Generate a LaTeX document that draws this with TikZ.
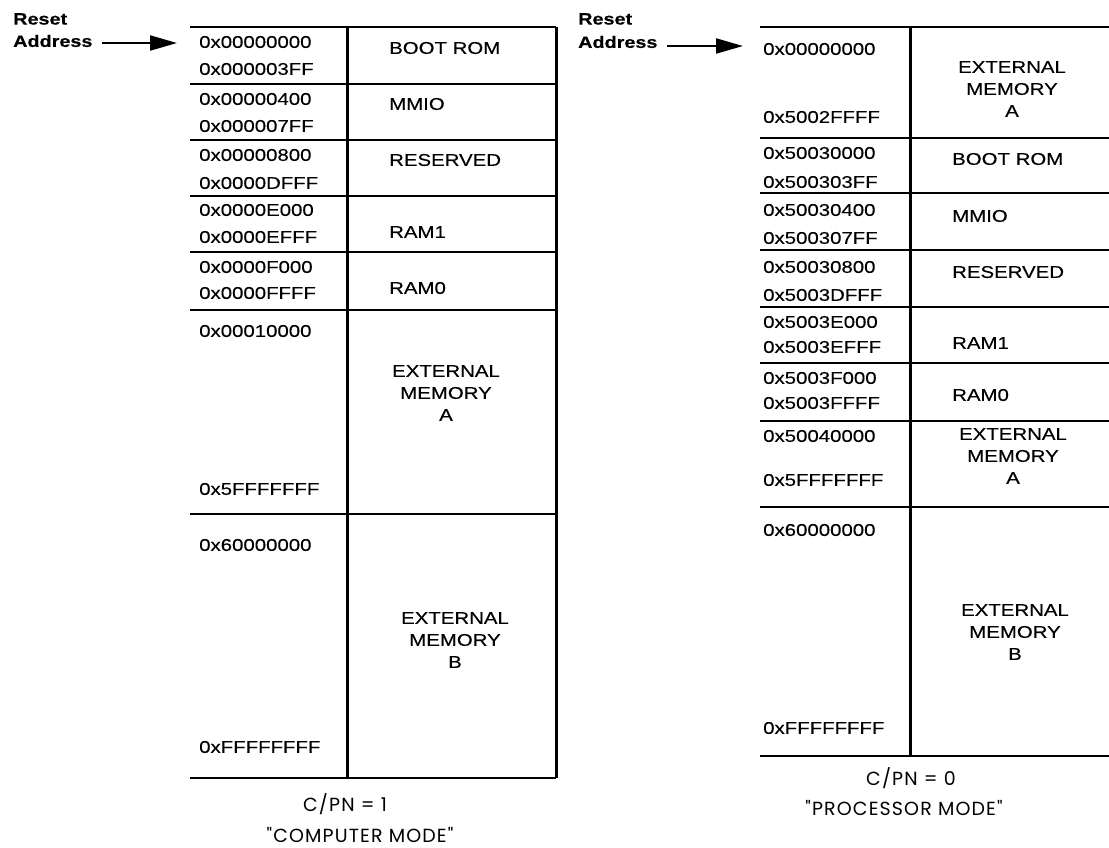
\documentclass[tikz,border=0pt]{standalone}
\usepackage{fontspec}
\setmainfont{Liberation Sans}[FakeStretch=1.2, FakeBold=0.3]
\newfontfamily\capfont{Poppins}[LetterSpace=6]
\usetikzlibrary{arrows.meta, positioning}

\begin{document}
\begin{tikzpicture}[
    x=1pt, y=-1pt,
    >={Triangle[length=27pt,width=15pt]},
    font=\fontsize{17}{19}\selectfont,
    addr/.style    = {anchor=west, inner sep=0pt},
    region/.style  = {anchor=west, inner sep=0pt},
    extmem/.style  = {align=center, inner sep=0pt,
                      font=\fontsize{17}{22}\selectfont},
    reset/.style   = {anchor=west, inner sep=0pt, font=\fontsize{16.5}{19}\selectfont\bfseries},
    rowline/.style = {line width=2.2pt},
    divline/.style = {line width=3pt},
    mode/.style    = {inner sep=0pt, font=\capfont\fontsize{19}{22}\selectfont},
]
\useasboundingbox (0,0) rectangle (1109,847);

% ---- computer mode map ----
\draw[rowline] (190,27) -- (556,27)  (190,84) -- (556,84)
               (190,140) -- (556,140) (190,196) -- (556,196)
               (190,252) -- (556,252) (190,310) -- (556,310)
               (190,514) -- (556,514) (190,778) -- (556,778);
\draw[divline] (347,27) -- (347,778);
\draw[divline] (556,27) -- (556,778);

\node[addr] (a0)  at (199,42)  {0x00000000};
\node[addr] (a1)  at (199,69)  {0x000003FF};
\node[addr] (a2)  at (199,99)  {0x00000400};
\node[addr] (a3)  at (199,126) {0x000007FF};
\node[addr] (a4)  at (199,155) {0x00000800};
\node[addr] (a5)  at (199,183) {0x0000DFFF};
\node[addr] (a6)  at (199,210) {0x0000E000};
\node[addr] (a7)  at (199,237) {0x0000EFFF};
\node[addr] (a8)  at (199,267) {0x0000F000};
\node[addr] (a9)  at (199,293) {0x0000FFFF};
\node[addr] (a10) at (199,331) {0x00010000};
\node[addr] (a11) at (199,489) {0x5FFFFFFF};
\node[addr] (a12) at (199,545) {0x60000000};
\node[addr] (a13) at (199,747) {0xFFFFFFFF};

\node[region] (bootL) at (389,48)  {BOOT ROM};
\node[region] (mmioL) at (389,104) {MMIO};
\node[region] (resvL) at (389,160) {RESERVED};
\node[region] (ram1L) at (389,232) {RAM1};
\node[region] (ram0L) at (389,288) {RAM0};
\node[extmem] (extAL) at (446,393) {EXTERNAL\\MEMORY\\A};
\node[extmem] (extBL) at (455,640) {EXTERNAL\\MEMORY\\B};

\node[mode] (cpnL)  at (345,804) {C/PN = 1};
\node[mode] (modeL) at (360,835) {"COMPUTER MODE"};

\node[reset] (rstL)  at (13,19) {Reset};
\node[reset] (addrL) at (13,41) {Address};
\coordinate (entryL) at (177,43);
\draw[->, line width=2.2pt] ([shift={(9,2)}]addrL.east) -- (entryL);

% ---- processor mode map ----
\draw[rowline] (760,27) -- (1109,27)  (760,138) -- (1109,138)
               (760,193) -- (1109,193) (760,250) -- (1109,250)
               (760,307) -- (1109,307) (760,363) -- (1109,363)
               (760,421) -- (1109,421) (760,507) -- (1109,507)
               (760,756) -- (1109,756);
\draw[divline] (910,27) -- (910,756);

\node[addr] (b0)  at (763,49)  {0x00000000};
\node[addr] (b1)  at (763,117) {0x5002FFFF};
\node[addr] (b2)  at (763,153) {0x50030000};
\node[addr] (b3)  at (763,182) {0x500303FF};
\node[addr] (b4)  at (763,210) {0x50030400};
\node[addr] (b5)  at (763,238) {0x500307FF};
\node[addr] (b6)  at (763,267) {0x50030800};
\node[addr] (b7)  at (763,295) {0x5003DFFF};
\node[addr] (b8)  at (763,322) {0x5003E000};
\node[addr] (b9)  at (763,347) {0x5003EFFF};
\node[addr] (b10) at (763,378) {0x5003F000};
\node[addr] (b11) at (763,403) {0x5003FFFF};
\node[addr] (b12) at (763,436) {0x50040000};
\node[addr] (b13) at (763,480) {0x5FFFFFFF};
\node[addr] (b14) at (763,530) {0x60000000};
\node[addr] (b15) at (763,728) {0xFFFFFFFF};

\node[extmem] (extAR) at (1012,89)  {EXTERNAL\\MEMORY\\A};
\node[region] (bootR) at (952,159) {BOOT ROM};
\node[region] (mmioR) at (952,216) {MMIO};
\node[region] (resvR) at (952,272) {RESERVED};
\node[region] (ram1R) at (952,343) {RAM1};
\node[region] (ram0R) at (952,395) {RAM0};
\node[extmem] (extA2R) at (1013,456) {EXTERNAL\\MEMORY\\A};
\node[extmem] (extBR)  at (1015,632) {EXTERNAL\\MEMORY\\B};

\node[mode] (cpnR)  at (911,778) {C/PN = 0};
\node[mode] (modeR) at (904,808) {"PROCESSOR MODE"};

\node[reset] (rstR)  at (578,19) {Reset};
\node[reset] (addrR) at (578,42) {Address};
\coordinate (entryR) at (743,46);
\draw[->, line width=2.2pt] ([shift={(9,4)}]addrR.east) -- (entryR);

\end{tikzpicture}
\end{document}
